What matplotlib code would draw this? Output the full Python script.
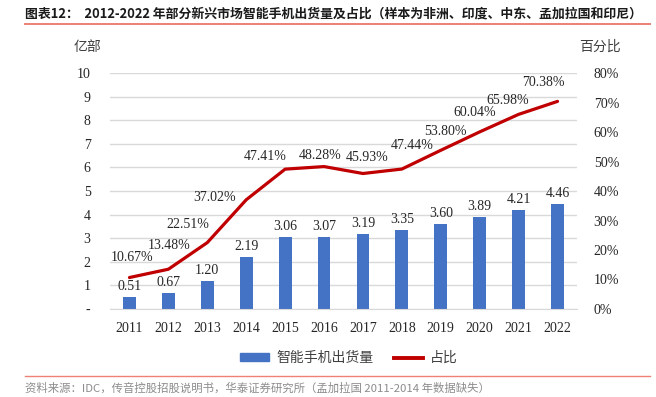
import matplotlib
matplotlib.use("Agg")
import matplotlib.pyplot as plt
from matplotlib.patches import Patch
from matplotlib.lines import Line2D

plt.rcParams['font.family'] = ['Noto Sans CJK SC', 'DejaVu Sans']

# ── data ─────────────────────────────────────────────────────────────
years = ['2011', '2012', '2013', '2014', '2015', '2016',
         '2017', '2018', '2019', '2020', '2021', '2022']
shipments = [0.51, 0.67, 1.20, 2.19, 3.06, 3.07, 3.19, 3.35, 3.60, 3.89, 4.21, 4.46]   # 亿部
share = [10.67, 13.48, 22.51, 37.02, 47.41, 48.28, 45.93, 47.44, 53.80, 60.04, 65.98, 70.38]  # %

# label nudges for the share labels (pixels, dx, dy)
share_offsets = [(3, 20), (1, 24), (-19, 18), (-32, 2), (-20, 13), (-4, 11),
                 (4, 16), (10, 24), (5, 19), (-5, 19), (-11, 14), (-14, 19)]

BLUE = '#4472C4'
RED = '#C00000'
SERIF = 'Liberation Serif'
W, H = 656, 397

fig = plt.figure(figsize=(W / 100, H / 100), dpi=100)
ax = fig.add_axes([110 / W, 1 - 309 / H, (577 - 110) / W, (309 - 73) / H])
ax2 = ax.twinx()

x = list(range(len(years)))
ax.bar(x, shipments, width=0.33, color=BLUE, zorder=2)
for xi, v in zip(x, shipments):
    ax.annotate(f'{v:.2f}', (xi, v), xytext=(0, 4), textcoords='offset pixels',
                ha='center', va='bottom', fontsize=10, family=SERIF, color='#262626')

ax2.plot(x, share, color=RED, lw=2.3, solid_joinstyle='round', solid_capstyle='round', zorder=3)
for xi, v, (dx, dy) in zip(x, share, share_offsets):
    ax2.annotate(f'{v:.2f}%', (xi, v), xytext=(dx, dy), textcoords='offset pixels',
                 ha='center', va='center', fontsize=10, family=SERIF, color='#262626')

ax.set_xlim(-0.5, len(years) - 0.5)
ax.set_ylim(0, 10)
ax2.set_ylim(0, 80)
ax.set_yticks(range(0, 11))
ax.set_yticklabels(['-'] + [str(i) for i in range(1, 11)], family=SERIF, fontsize=10)
ax2.set_yticks(range(0, 81, 10))
ax2.set_yticklabels([f'{i}%' for i in range(0, 81, 10)], family=SERIF, fontsize=10)
ax.set_xticks(x)
ax.set_xticklabels(years, family=SERIF, fontsize=10)
ax.tick_params(axis='y', length=0, pad=14, colors='#262626')
ax2.tick_params(axis='y', length=0, pad=12, colors='#262626')
ax.tick_params(axis='x', length=0, pad=9, colors='#262626')

ax.grid(axis='y', color='#D9D9D9', lw=1, zorder=0)
ax.set_axisbelow(True)
for a in (ax, ax2):
    for s in a.spines.values():
        s.set_visible(False)
ax.spines['bottom'].set_visible(True)
ax.spines['bottom'].set_color('#D9D9D9')

# units
fig.text(87 / W, 1 - 47 / H, '亿部', ha='center', va='center', fontsize=10, color='#404040')
fig.text(600 / W, 1 - 47 / H, '百分比', ha='center', va='center', fontsize=10, color='#404040')

# title + rules
fig.text(25 / W, 1 - 14 / H,
         '图表12：  2012-2022 年部分新兴市场智能手机出货量及占比（样本为非洲、印度、中东、孟加拉国和印尼）',
         ha='left', va='center', fontsize=9.3, fontweight='bold', color='#1a1a1a')
fig.add_artist(Line2D([25 / W, 650 / W], [1 - 24 / H, 1 - 24 / H], color='#EE8077', lw=1.4))
fig.add_artist(Line2D([25 / W, 650 / W], [1 - 376 / H, 1 - 376 / H], color='#EE8077', lw=1.0))

# legend
handles = [Patch(color=BLUE, label='智能手机出货量'), Line2D([], [], color=RED, lw=2.8, label='占比')]
fig.legend(handles=handles, loc='center', bbox_to_anchor=(349 / W, 1 - 358 / H), ncol=2,
           frameon=False, fontsize=10, handlelength=2.1, handleheight=0.45,
           columnspacing=1.5, handletextpad=0.5, labelcolor='#404040')

fig.text(25 / W, 1 - 388 / H,
         '资料来源：IDC，传音控股招股说明书，华泰证券研究所（孟加拉国 2011-2014 年数据缺失）',
         ha='left', va='center', fontsize=8.2, color='#8c8c8c')

fig.savefig('out.png', dpi=100)
